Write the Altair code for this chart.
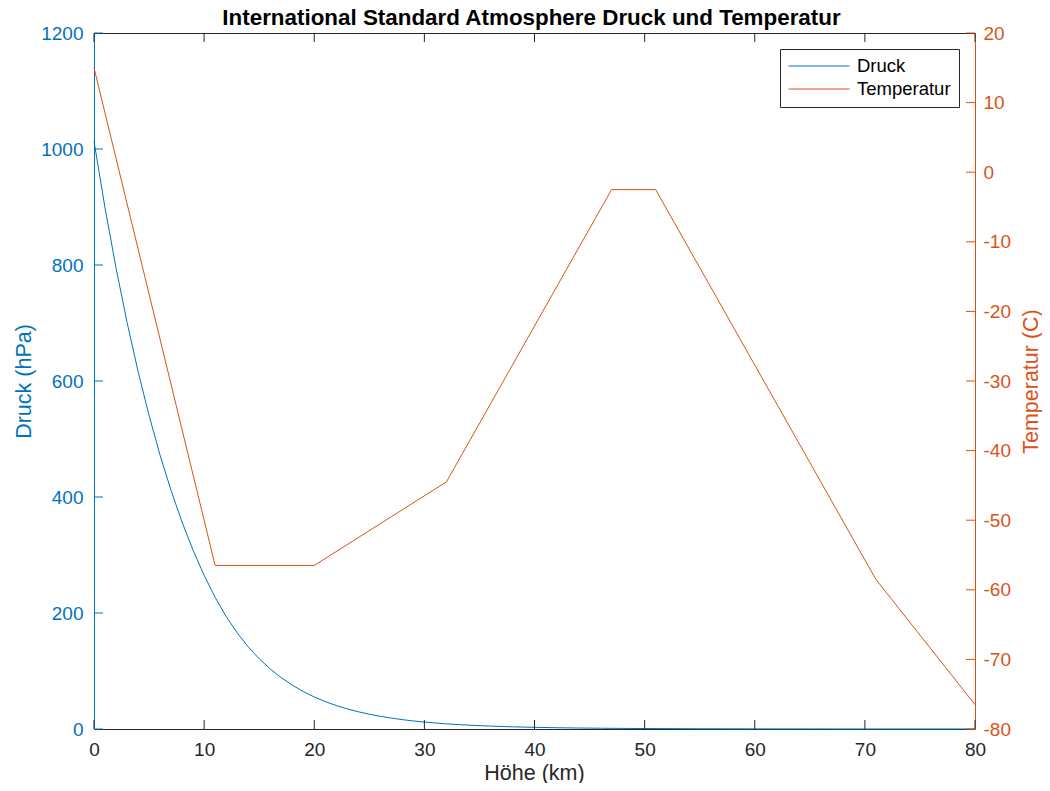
import altair as alt
import pandas as pd

# ---- data ----
hoehe_druck = list(range(0, 31)) + [32, 34, 36, 38, 40, 42, 44, 46, 48, 50, 55, 60, 65, 70, 75, 80]
druck_hpa = [1013.25, 898.76, 795.01, 701.21, 616.60, 540.48, 472.17, 411.05, 356.51, 308.00,
             265.00, 227.00, 193.99, 165.80, 141.70, 121.11, 103.53, 88.50, 75.65, 64.67,
             55.29, 47.29, 40.47, 34.67, 29.72, 25.49, 21.88, 18.80, 16.16, 13.90,
             11.97, 8.89, 6.63, 4.98, 3.77, 2.87, 2.20, 1.69, 1.31, 1.02,
             0.80, 0.43, 0.22, 0.11, 0.052, 0.024, 0.010]
hoehe_temp = [0, 11, 20, 32, 47, 51, 71, 80]
temperatur_c = [15, -56.5, -56.5, -44.5, -2.5, -2.5, -58.5, -76.5]
reihen = ["Druck", "Temperatur"]
x_ticks = list(range(0, 81, 10))
druck_ticks = list(range(0, 1201, 200))
temp_ticks = list(range(-80, 21, 10))

BLUE = "#0072BD"
ORANGE = "#D95319"
AX = "#262626"
FONT = "Liberation Sans"
W, H, TL = 881, 696, 9

df_p = pd.DataFrame({"h": hoehe_druck, "v": druck_hpa, "Reihe": reihen[0]})
df_t = pd.DataFrame({"h": hoehe_temp, "v": temperatur_c, "Reihe": reihen[1]})
df_xt = pd.DataFrame({"t": x_ticks})
df_pt = pd.DataFrame({"t": druck_ticks})
df_tt = pd.DataFrame({"t": temp_ticks})

color = alt.Color(
    "Reihe:N",
    scale=alt.Scale(domain=reihen, range=[BLUE, ORANGE]),
    legend=alt.Legend(
        title=None, orient="none", legendX=686, legendY=16,
        symbolType="stroke", symbolSize=3721, symbolStrokeWidth=1,
        labelFontSize=18.5, labelColor="black", labelFont=FONT, labelOffset=7,
        strokeColor=AX, fillColor="white", padding=8, rowPadding=4,
        clipHeight=18,
    ),
)

xscale = alt.Scale(domain=[0, 80], nice=False, zero=False)
pscale = alt.Scale(domain=[0, 1200], nice=False)
tscale = alt.Scale(domain=[-80, 20], nice=False)
lbl = "'' + datum.value"

druck = alt.Chart(df_p).mark_line(strokeWidth=1).encode(
    x=alt.X("h:Q", scale=xscale, axis=alt.Axis(
        orient="bottom", values=x_ticks, title="Höhe (km)", ticks=False, grid=False,
        domainColor=AX, labelColor=AX, titleColor=AX, labelPadding=11,
        labelExpr=lbl, labelFlush=False, labelOverlap=False,
        titleX=440, titleY=50, titleBaseline="alphabetic", titleAlign="center")),
    y=alt.Y("v:Q", scale=pscale, axis=alt.Axis(
        orient="left", values=druck_ticks, title="Druck (hPa)", ticks=False, grid=False,
        domainColor=BLUE, labelColor=BLUE, titleColor=BLUE, labelPadding=11,
        labelExpr=lbl, labelFlush=False, labelOverlap=False,
        titleX=-64, titleY=348, titleAngle=270, titleAlign="center",
        titleBaseline="alphabetic")),
    color=color,
)

temp = alt.Chart(df_t).mark_line(strokeWidth=1).encode(
    x=alt.X("h:Q", scale=xscale, axis=alt.Axis(
        orient="top", values=x_ticks, title=None, labels=False, ticks=False,
        grid=False, domainColor=AX)),
    y=alt.Y("v:Q", scale=tscale, axis=alt.Axis(
        orient="right", values=temp_ticks, title="Temperatur (C)", ticks=False,
        grid=False, domainColor=ORANGE, labelColor=ORANGE, titleColor=ORANGE,
        labelPadding=8, labelExpr=lbl, labelFlush=False, labelOverlap=False,
        titleX=62, titleY=348, titleAngle=270, titleAlign="center",
        titleBaseline="alphabetic")),
    color=color,
)

# inward tick marks (MATLAB style)
xt_bottom = alt.Chart(df_xt).mark_rule(color=AX, strokeWidth=1).encode(
    x=alt.X("t:Q", scale=xscale, axis=None), y=alt.value(H), y2=alt.value(H - TL))
xt_top = alt.Chart(df_xt).mark_rule(color=AX, strokeWidth=1).encode(
    x=alt.X("t:Q", scale=xscale, axis=None), y=alt.value(0), y2=alt.value(TL))
pt_left = alt.Chart(df_pt).mark_rule(color=BLUE, strokeWidth=1).encode(
    y=alt.Y("t:Q", scale=pscale, axis=None), x=alt.value(0), x2=alt.value(TL))
tt_right = alt.Chart(df_tt).mark_rule(color=ORANGE, strokeWidth=1).encode(
    y=alt.Y("t:Q", scale=tscale, axis=None), x=alt.value(W), x2=alt.value(W - TL))

chart = (
    alt.layer(druck, temp, xt_bottom, xt_top, pt_left, tt_right)
    .resolve_scale(y="independent")
    .properties(
        width=W, height=H,
        autosize=alt.AutoSizeParams(type="none"),
        padding={"left": 86, "top": 25, "right": 67, "bottom": 54},
        title=alt.Title(
            "International Standard Atmosphere Druck und Temperatur",
            fontSize=22.4, fontWeight="bold", font=FONT, color="black",
            anchor="middle", offset=-23, baseline="alphabetic", dx=-3),
    )
    .configure_view(stroke=None)
    .configure_axis(labelFont=FONT, titleFont=FONT, labelFontSize=19,
                    titleFontSize=21.5, titleFontWeight="normal", domainWidth=1)
)

chart.save("out.html", embed_options={"renderer": "svg", "actions": False})
